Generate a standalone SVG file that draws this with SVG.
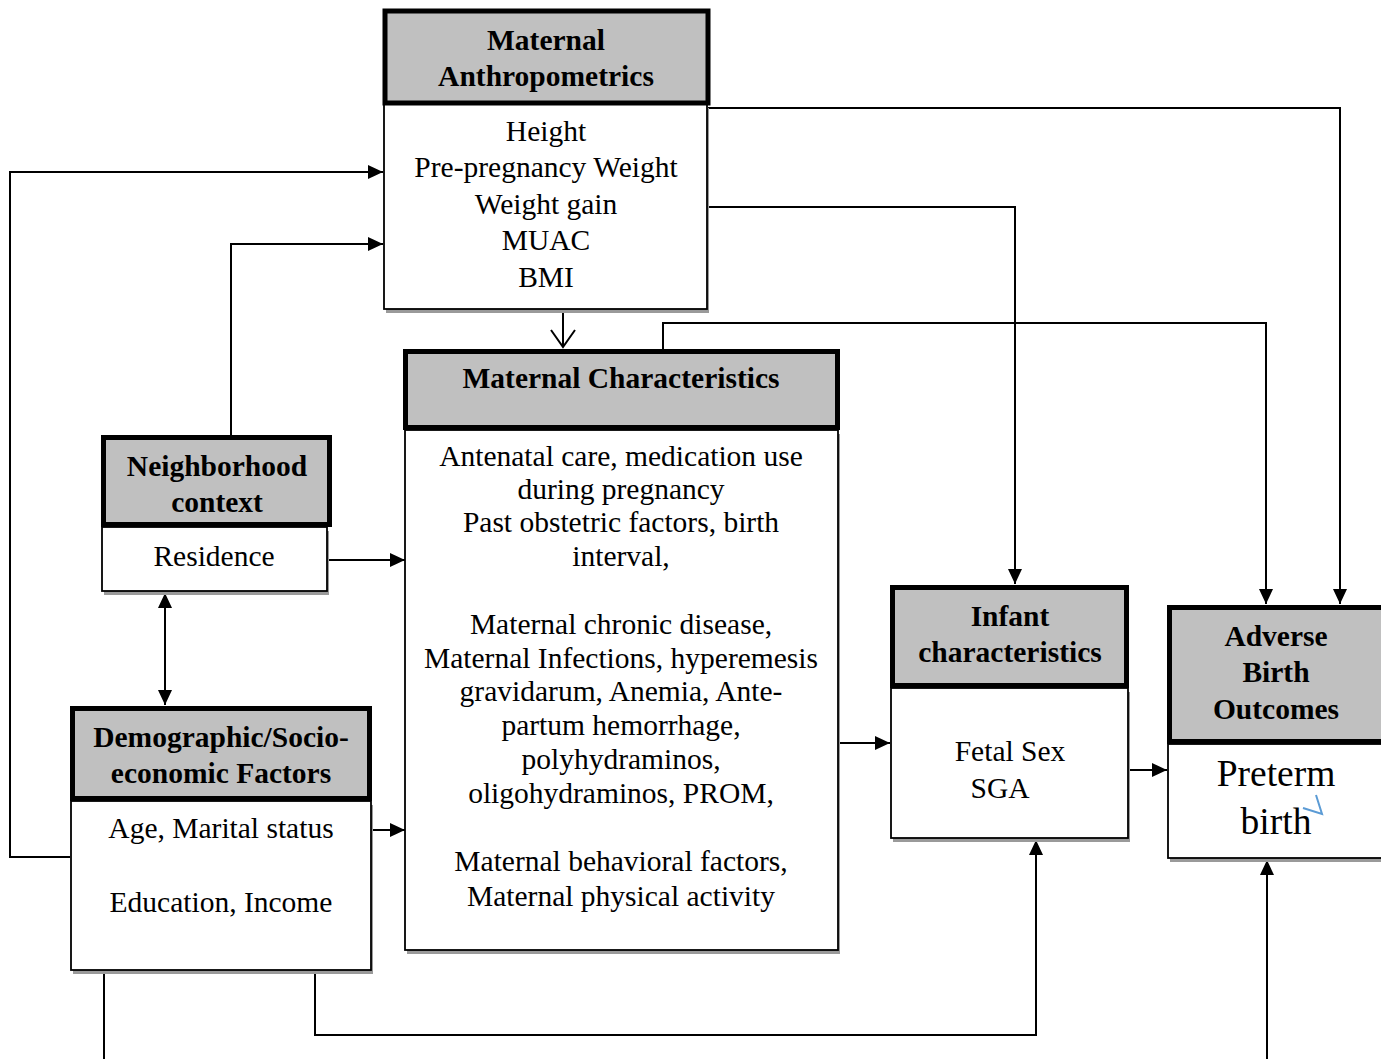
<svg xmlns="http://www.w3.org/2000/svg" width="1381" height="1059" viewBox="0 0 1381 1059">
<style>
.hdr{fill:#c0c0c0;stroke:#000;stroke-width:5}
.body{fill:#fff;stroke:#000;stroke-width:1.8}
.shadow{fill:#9a9a9a}
.ht{font-family:"Liberation Serif","Times New Roman",serif;font-weight:bold;font-size:29.5px;text-anchor:middle;fill:#000}
.bt{font-family:"Liberation Serif","Times New Roman",serif;font-size:29.5px;text-anchor:middle;fill:#000}
.big{font-family:"Liberation Serif","Times New Roman",serif;font-size:37.5px;text-anchor:middle;fill:#000}
.ln{fill:none;stroke:#000;stroke-width:2}
</style>
<defs>
<marker id="arr" markerUnits="userSpaceOnUse" markerWidth="16" markerHeight="14" refX="15" refY="7" orient="auto">
<path d="M0,0 L15,7 L0,14 z" fill="#000"/>
</marker>
<marker id="arrs" markerUnits="userSpaceOnUse" markerWidth="16" markerHeight="14" refX="15" refY="7" orient="auto-start-reverse">
<path d="M0,0 L15,7 L0,14 z" fill="#000"/>
</marker>
</defs>

<g id="connectors">
<polyline class="ln" points="708,108 1340,108 1340,604" marker-end="url(#arr)"/>
<polyline class="ln" points="707,207 1015,207 1015,584" marker-end="url(#arr)"/>
<polyline class="ln" points="70,857 10,857 10,172 383,172" marker-end="url(#arr)"/>
<polyline class="ln" points="231,435 231,244 383,244" marker-end="url(#arr)"/>
<line class="ln" x1="563" y1="309" x2="563" y2="347"/>
<polyline class="ln" points="551,330 563,347 575,330"/>
<polyline class="ln" points="663,349 663,323 1266,323 1266,604" marker-end="url(#arr)"/>
<line class="ln" x1="327" y1="560" x2="405" y2="560" marker-end="url(#arr)"/>
<line class="ln" x1="165" y1="593" x2="165" y2="705" marker-start="url(#arrs)" marker-end="url(#arrs)"/>
<line class="ln" x1="371" y1="830" x2="405" y2="830" marker-end="url(#arr)"/>
<line class="ln" x1="838" y1="743" x2="890" y2="743" marker-end="url(#arr)"/>
<line class="ln" x1="1128" y1="770" x2="1167" y2="770" marker-end="url(#arr)"/>
<line class="ln" x1="104" y1="970" x2="104" y2="1059"/>
<polyline class="ln" points="315,970 315,1035 1036,1035 1036,840" marker-end="url(#arr)"/>
<line class="ln" x1="1267" y1="1059" x2="1267" y2="860" marker-end="url(#arr)"/>
</g>

<g id="maternal-anthropometrics">
<rect class="shadow" x="386" y="108" width="323" height="205"/>
<rect class="body" x="384" y="104" width="323" height="205"/>
<rect class="hdr" x="385" y="11" width="323" height="92"/>
<text class="ht" x="546" y="50">Maternal</text>
<text class="ht" x="546" y="86">Anthropometrics</text>
<text class="bt" x="546" y="141">Height</text>
<text class="bt" x="546" y="177">Pre-pregnancy Weight</text>
<text class="bt" x="546" y="214">Weight gain</text>
<text class="bt" x="546" y="250">MUAC</text>
<text class="bt" x="546" y="287">BMI</text>
</g>

<g id="maternal-characteristics">
<rect class="shadow" x="407" y="434" width="433" height="520"/>
<rect class="body" x="405" y="430" width="433" height="520"/>
<rect class="hdr" x="405.5" y="351.5" width="432" height="76"/>
<text class="ht" x="621" y="388">Maternal Characteristics</text>
<text class="bt" x="621" y="466">Antenatal care, medication use</text>
<text class="bt" x="621" y="499">during pregnancy</text>
<text class="bt" x="621" y="532">Past obstetric factors, birth</text>
<text class="bt" x="621" y="566">interval,</text>
<text class="bt" x="621" y="634">Maternal chronic disease,</text>
<text class="bt" x="621" y="668">Maternal Infections, hyperemesis</text>
<text class="bt" x="621" y="701">gravidarum, Anemia, Ante-</text>
<text class="bt" x="621" y="735">partum hemorrhage,</text>
<text class="bt" x="621" y="769">polyhydraminos,</text>
<text class="bt" x="621" y="803">oligohydraminos, PROM,</text>
<text class="bt" x="621" y="871">Maternal behavioral factors,</text>
<text class="bt" x="621" y="906">Maternal physical activity</text>
</g>

<g id="neighborhood-context">
<rect class="shadow" x="104" y="531" width="225" height="64"/>
<rect class="body" x="102" y="527" width="225" height="64"/>
<rect class="hdr" x="103.5" y="437.5" width="226" height="87"/>
<text class="ht" x="217" y="476">Neighborhood</text>
<text class="ht" x="217" y="512">context</text>
<text class="bt" x="214" y="566">Residence</text>
</g>

<g id="demographic-socioeconomic">
<rect class="shadow" x="73" y="805" width="300" height="169"/>
<rect class="body" x="71" y="801" width="300" height="169"/>
<rect class="hdr" x="72.5" y="708.5" width="297" height="90"/>
<text class="ht" x="221" y="747">Demographic/Socio-</text>
<text class="ht" x="221" y="783">economic Factors</text>
<text class="bt" x="221" y="838">Age, Marital status</text>
<text class="bt" x="221" y="912">Education, Income</text>
</g>

<g id="infant-characteristics">
<rect class="shadow" x="893" y="692" width="237" height="150"/>
<rect class="body" x="891" y="688" width="237" height="150"/>
<rect class="hdr" x="892.5" y="587.5" width="234" height="98"/>
<text class="ht" x="1010" y="626">Infant</text>
<text class="ht" x="1010" y="662">characteristics</text>
<text class="bt" x="1010" y="761">Fetal Sex</text>
<text class="bt" x="1000" y="798">SGA</text>
</g>

<g id="adverse-birth-outcomes">
<rect class="shadow" x="1170" y="748" width="220" height="114"/>
<rect class="body" x="1168" y="744" width="220" height="114"/>
<rect class="hdr" x="1169.5" y="607.5" width="220" height="134"/>
<text class="ht" x="1276" y="646">Adverse</text>
<text class="ht" x="1276" y="682">Birth</text>
<text class="ht" x="1276" y="719">Outcomes</text>
<text class="big" x="1276" y="786">Preterm</text>
<text class="big" x="1276" y="834">birth</text>
<polyline points="1303,808 1322,814 1316,795" fill="none" stroke="#5b9bd5" stroke-width="2"/>
</g>
</svg>
